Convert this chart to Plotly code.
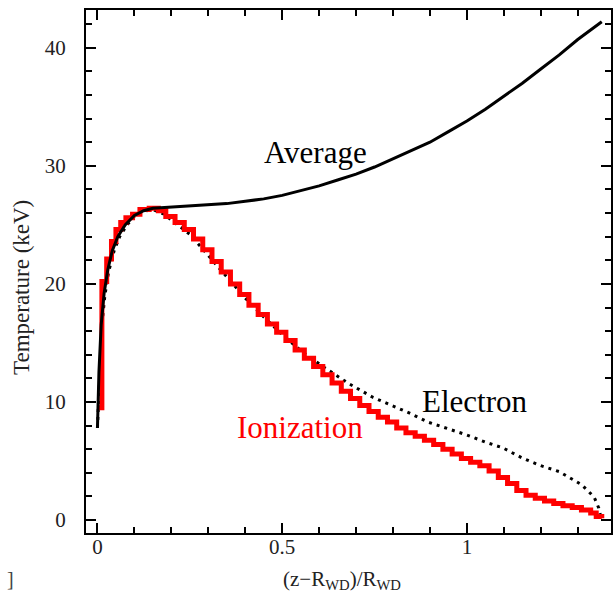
import plotly.graph_objects as go

# Average temperature (solid black)
avg_x = [0.0, 0.004, 0.01, 0.018, 0.028, 0.04, 0.055, 0.075, 0.1, 0.125, 0.15, 0.2, 0.25, 0.3,
         0.35, 0.4, 0.45, 0.5, 0.55, 0.6, 0.65, 0.7, 0.75, 0.8, 0.85, 0.9, 0.95, 1.0, 1.05,
         1.1, 1.15, 1.2, 1.25, 1.3, 1.365]
avg_y = [7.8, 12.5, 16.5, 19.2, 21.2, 22.8, 24.0, 25.0, 25.8, 26.2, 26.4, 26.5, 26.6, 26.7,
         26.8, 27.0, 27.2, 27.5, 27.9, 28.3, 28.8, 29.3, 29.9, 30.6, 31.3, 32.0, 32.9, 33.8, 34.8,
         35.9, 37.0, 38.2, 39.4, 40.7, 42.2]

# Electron temperature (dotted black)
ele_x = [0.0, 0.005, 0.012, 0.02, 0.03, 0.045, 0.06, 0.08, 0.1, 0.12, 0.15, 0.18, 0.21, 0.25,
         0.3, 0.35, 0.4, 0.45, 0.5, 0.556, 0.615, 0.678, 0.745, 0.797, 0.845, 0.894, 0.945,
         1.0, 1.05, 1.098, 1.15, 1.2, 1.25, 1.29, 1.31, 1.33, 1.345, 1.357, 1.362]
ele_y = [7.8, 12.0, 16.5, 19.0, 21.0, 22.8, 24.0, 25.0, 25.7, 26.1, 26.3, 25.9, 25.2, 24.2,
         22.4, 20.6, 18.8, 17.2, 15.7, 14.2, 12.9, 11.6, 10.4, 9.7, 9.05, 8.3, 7.8,
         7.2, 6.6, 6.1, 5.25, 4.6, 4.1, 3.4, 3.0, 2.4, 1.9, 1.0, 0.3]

# Ionization temperature (red, stepped)
ion_x = [0.0, 0.012, 0.025, 0.038, 0.05, 0.063, 0.077, 0.095, 0.115, 0.14, 0.165, 0.185,
         0.21, 0.235, 0.26, 0.285, 0.31, 0.335, 0.36, 0.385, 0.41, 0.435, 0.46, 0.485,
         0.51, 0.535, 0.56, 0.585, 0.61, 0.635, 0.66, 0.685, 0.71, 0.735, 0.76, 0.785,
         0.81, 0.835, 0.86, 0.885, 0.91, 0.935, 0.96, 0.985, 1.01, 1.035, 1.06, 1.085,
         1.11, 1.135, 1.16, 1.185, 1.21, 1.235, 1.26, 1.285, 1.31, 1.335, 1.35, 1.365]
ion_y = [9.5, 20.2, 22.1, 23.6, 24.6, 25.2, 25.6, 25.9, 26.3, 26.4, 26.2, 25.7,
         25.2, 24.6, 23.8, 22.9, 21.9, 21.0, 20.0, 19.1, 18.2, 17.4, 16.6, 15.9,
         15.2, 14.4, 13.7, 13.0, 12.3, 11.6, 10.9, 10.3, 9.7, 9.2, 8.7, 8.3,
         7.8, 7.4, 7.1, 6.75, 6.4, 6.0, 5.6, 5.2, 4.9, 4.6, 4.15, 3.6,
         3.1, 2.5, 2.1, 1.85, 1.6, 1.4, 1.2, 1.05, 0.85, 0.6, 0.3, 0.15]

FONT = "Liberation Serif, Times New Roman, Times, serif"

fig = go.Figure()
fig.add_trace(go.Scatter(x=ele_x, y=ele_y, mode="lines",
                         line=dict(color="black", width=3, dash="3px,5px"),
                         showlegend=False))
fig.add_trace(go.Scatter(x=ion_x, y=ion_y, mode="lines",
                         line=dict(color="#ff0000", width=5, shape="hv"),
                         showlegend=False))
fig.add_trace(go.Scatter(x=avg_x, y=avg_y, mode="lines",
                         line=dict(color="black", width=3),
                         showlegend=False))

axis_common = dict(
    showline=True, linecolor="black", linewidth=2, mirror="allticks",
    ticks="inside", ticklen=10, tickwidth=2, tickcolor="black",
    showgrid=False, zeroline=False, automargin=False,
    tickfont=dict(family=FONT, size=21, color="#222"),
)

fig.update_xaxes(range=[-0.031, 1.39], tick0=0, dtick=0.5,
                 minor=dict(dtick=0.1, ticks="inside", ticklen=6, tickwidth=2, tickcolor="black"),
                 ticklabelstandoff=-6, **axis_common)
fig.update_yaxes(range=[-1.1, 43.2], tick0=0, dtick=10,
                 minor=dict(dtick=2, ticks="inside", ticklen=6, tickwidth=2, tickcolor="black"),
                 ticklabelstandoff=14, **axis_common)

fig.update_layout(
    width=613, height=594,
    margin=dict(l=86, r=2, t=10, b=61),
    plot_bgcolor="white", paper_bgcolor="white",
    font=dict(family=FONT, color="black"),
    annotations=[
        dict(x=0.591, y=31.1, xref="x", yref="y", text="Average", showarrow=False,
             xanchor="center", yanchor="middle",
             font=dict(family=FONT, size=31, color="black")),
        dict(x=1.022, y=10.0, xref="x", yref="y", text="Electron", showarrow=False,
             xanchor="center", yanchor="middle",
             font=dict(family=FONT, size=31, color="black")),
        dict(x=0.548, y=7.8, xref="x", yref="y", text="Ionization", showarrow=False,
             xanchor="center", yanchor="middle",
             font=dict(family=FONT, size=31, color="#ff0000")),
        dict(x=(342 - 86) / 525, y=-32 / 523, xref="paper", yref="paper",
             xanchor="center", yanchor="top",
             text="(z\u2212R<sub>WD</sub>)/R<sub>WD</sub>", showarrow=False,
             font=dict(family=FONT, size=21, color="#222")),
        dict(x=(22 - 86) / 525, y=(533 - 288) / 523, xref="paper", yref="paper",
             xanchor="center", yanchor="middle",
             text="Temperature (keV)", textangle=-90, showarrow=False,
             font=dict(family=FONT, size=23, color="#222")),
        dict(x=(10 - 86) / 525, y=-33 / 523, xref="paper", yref="paper",
             xanchor="center", yanchor="top",
             text="]", showarrow=False,
             font=dict(family=FONT, size=20, color="#444")),
    ],
)

fig.write_html("out.html", config={"displayModeBar": False},
               post_script="document.body.style.margin='0';document.body.style.padding='0';")
